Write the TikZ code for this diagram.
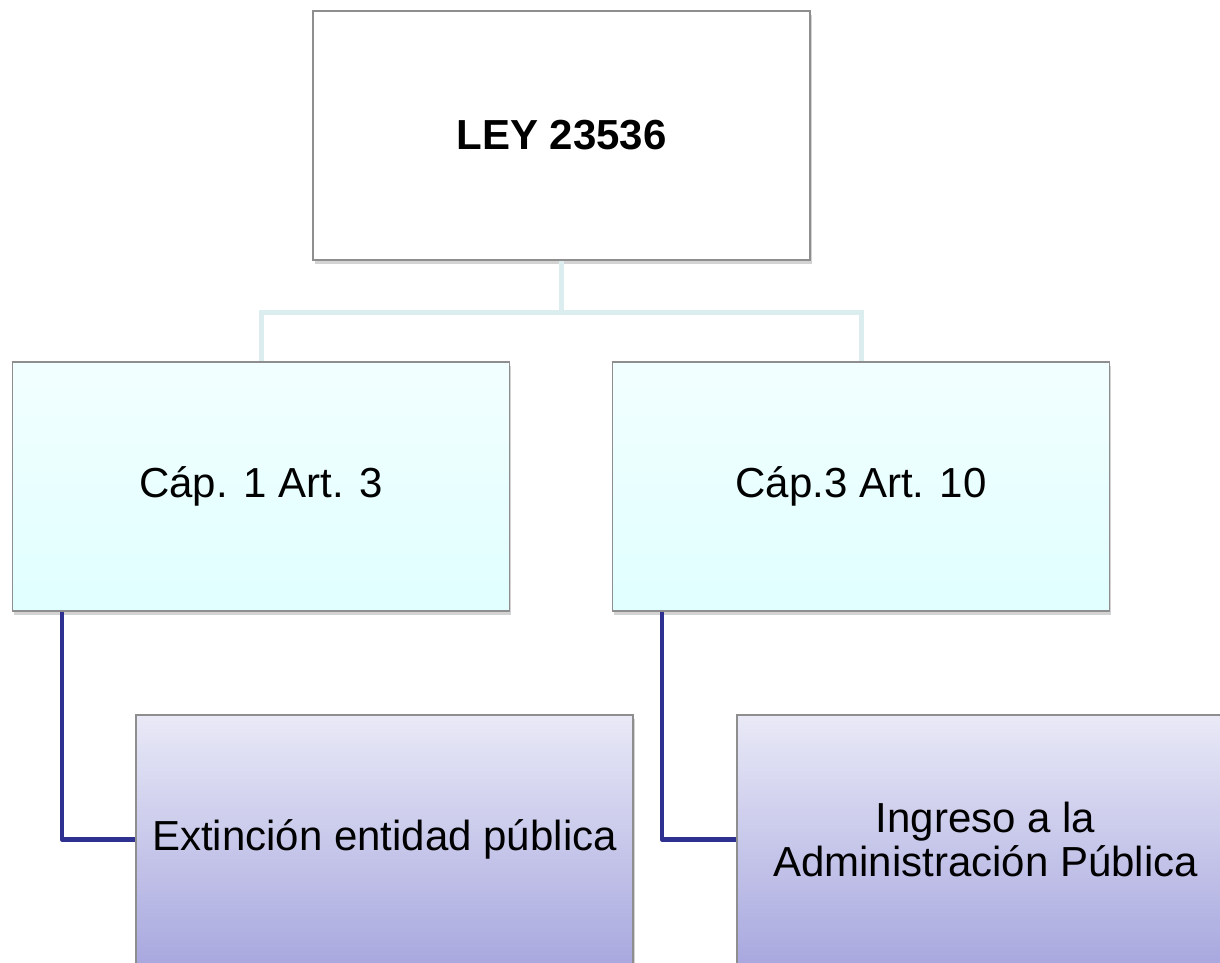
\documentclass[tikz,border=0pt]{standalone}
\usepackage{fontspec}
\setmainfont{Liberation Sans}
\usepackage{tikz}
\usetikzlibrary{shadows}
\definecolor{boxline}{HTML}{8E8E8E}
\definecolor{treeblue}{HTML}{DCEDEF}
\definecolor{leafblue}{HTML}{2F3190}

\tikzset{
  box/.style={draw=boxline, line width=1.2pt, minimum width=497pt, minimum height=249pt,
    inner sep=0pt, align=center, font=\fontsize{42}{44}\selectfont,
    drop shadow={opacity=0.35, shadow xshift=1.5pt, shadow yshift=-4pt}},
  lawbox/.style={box, fill=white, font=\fontsize{42}{44}\selectfont\bfseries},
  chapbox/.style={box, top color=cyan!5, bottom color=cyan!12},
  topicbox/.style={box, top color={rgb,255:red,233;green,233;blue,247}, bottom color={rgb,255:red,168;green,168;blue,223}},
  treeline/.style={treeblue, line width=5pt},
  leafline/.style={leafblue, line width=4.5pt, line join=round}
}

\begin{document}
\begin{tikzpicture}[x=1pt, y=-1pt]
  \useasboundingbox (0,0) rectangle (1220,963);
  \node[lawbox] (ley) at (561.5,135.5) {LEY 23536};
  \node[chapbox] (cap1) at (261,486.5) {Cáp. 1 Art. 3};
  \node[chapbox] (cap3) at (861,486.5) {Cáp.3 Art. 10};
  \node[topicbox] (ext) at (384.5,839.5) {Extinción entidad pública};
  \node[topicbox] (ing) at (985.5,839.5) {Ingreso a la\\Administración Pública};

  \draw[treeline] (ley.south) -- ++(0,52) coordinate (split) -| (cap1.north);
  \draw[treeline] (split) -| (cap3.north);
  \draw[leafline] ([xshift=50pt]cap1.south west) |- (ext.west);
  \draw[leafline] ([xshift=50pt]cap3.south west) |- (ing.west);
\end{tikzpicture}
\end{document}
